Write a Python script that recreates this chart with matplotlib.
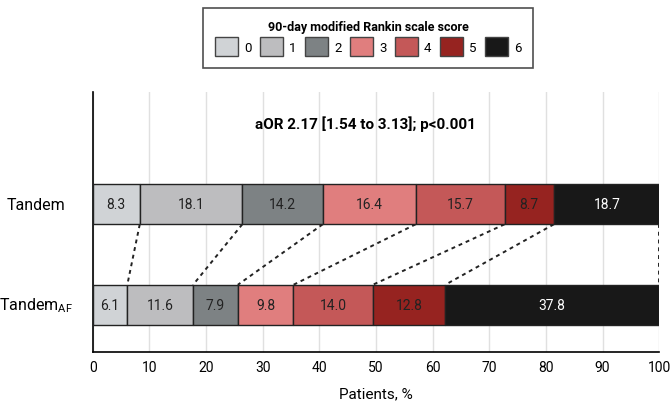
import matplotlib
matplotlib.use("Agg")
import matplotlib.pyplot as plt
from matplotlib.patches import Patch

plt.rcParams['font.family'] = ['Roboto', 'DejaVu Sans']
plt.rcParams['mathtext.fontset'] = 'custom'
plt.rcParams['mathtext.rm'] = 'Roboto'

# data
scores = ['0', '1', '2', '3', '4', '5', '6']
tandem = [8.3, 18.1, 14.2, 16.4, 15.7, 8.7, 18.7]
tandem_af = [6.1, 11.6, 7.9, 9.8, 14.0, 12.8, 37.8]
groups = ['Tandem', 'Tandem$_{\\mathrm{AF}}$']
colors = ['#d0d3d6', '#bdbdbf', '#7d8284', '#e07e7e', '#c45858', '#962320', '#181818']
text_colors = ['#222222'] * 6 + ['white']

fig = plt.figure(figsize=(6.72, 4.06), dpi=100)
ax = fig.add_axes([0.138, 0.1313, 0.843, 0.640])

bar_h = 0.40
ypos = [1, 0]
cums = []
for y, vals in zip(ypos, [tandem, tandem_af]):
    left = 0
    cum = []
    for v, c, tc in zip(vals, colors, text_colors):
        ax.barh(y, v, left=left, height=bar_h, color=c, edgecolor='#222222',
                linewidth=1, zorder=3)
        ax.text(left + v / 2, y, f"{v:.1f}", ha='center', va='center',
                fontsize=10, color=tc, zorder=4)
        left += v
        cum.append(min(left, 100))
    cums.append(cum)

# dotted connectors between category boundaries
for a, b in zip(cums[0], cums[1]):
    ax.plot([a, b], [1 - bar_h / 2, bar_h / 2], color='#222222', ls=(0, (2, 2)),
            lw=1.4, zorder=2)

ax.set_xlim(0, 100)
ax.set_ylim(-0.462, 2.112)
ax.set_xticks(range(0, 101, 10))
ax.set_yticks([])
for y, g in zip(ypos, groups):
    ax.text(-0.1, y, g, transform=ax.get_yaxis_transform(), ha='center',
            va='center', fontsize=11.5)
ax.tick_params(axis='x', length=0, labelsize=10, pad=6)
ax.grid(axis='x', color='#e0e0e0', lw=1, zorder=0)
for s in ['top', 'right']:
    ax.spines[s].set_visible(False)
ax.spines['left'].set_linewidth(1.2)
ax.spines['bottom'].set_linewidth(1.2)
ax.set_xlabel('Patients, %', fontsize=11, labelpad=9)

ax.text(48.2, 1.8, 'aOR 2.17 [1.54 to 3.13]; p<0.001', ha='center', va='center',
        fontsize=11, fontweight='bold')

handles = [Patch(facecolor=c, edgecolor='#444444', linewidth=1) for c in colors]
leg = fig.legend(handles, scores, ncol=7, loc='upper center',
                 bbox_to_anchor=(0.548, 0.993), frameon=True, fancybox=False,
                 edgecolor='#222222', title='90-day modified Rankin scale score',
                 title_fontproperties={'weight': 'bold', 'size': 9},
                 fontsize=9.5, handlelength=1.75, handleheight=1.8,
                 columnspacing=0.65, handletextpad=0.45, borderpad=0.9,
                 labelspacing=0.3)
leg.get_frame().set_linewidth(1.2)

fig.savefig('out.png', dpi=100)
